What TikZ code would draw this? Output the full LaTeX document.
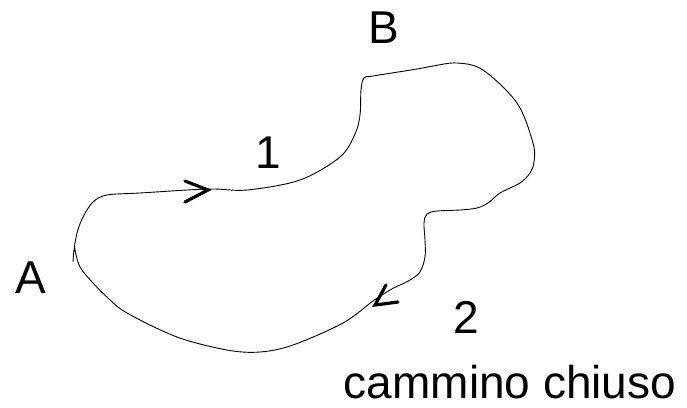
\documentclass[tikz,border=0pt]{standalone}
\usepackage{fontspec}
\setmainfont{Liberation Sans}
\begin{document}
\begin{tikzpicture}[x=1pt,y=-1pt,
  lbl/.style={anchor=base,inner sep=0pt,text depth=0pt,font=\fontsize{46}{50}\selectfont},
  loopline/.style={line width=0.9pt,black},
  chevron/.style={line width=3.2pt,line cap=round,line join=miter,black}]
\useasboundingbox (0,0) rectangle (687,407);

% closed path through A and B
\draw[loopline] plot[smooth,tension=0.55] coordinates {
  (73,262) (74,250) (77,233) (83,217) (93,202) (107,195) (140,193)
  (208,189) (247,190) (300,180) (340,157) (355,134) (360,115) (361,90)
  (364,78) (373,76) (417,69) (433,66) (457,63) (483,70) (517,103)
  (533,143) (534,162) (530,173) (520,183) (500,193) (488,203) (477,208)
  (460,210) (437,211) (427,214) (424,223) (425,240) (425,257) (420,272)
  (410,280) (400,285) (390,290) (373,301) (343,323) (293,345) (260,352)
  (227,350) (177,337) (127,313) (108,298) (93,283) (80,267) (75,250) (75,243)};

% direction marks
\coordinate (t1) at (208,190);
\coordinate (t2) at (375,305);
\draw[chevron] (185,181) -- (t1) -- (185,202);
\draw[chevron] (386,285) -- (t2) -- (398,302);

% labels
\node[lbl] (lA) at (31,293) {A};
\node[lbl] (lB) at (384,43) {B};
\node[lbl] (l1) at (268,168) {1};
\node[lbl] (l2) at (466,333) {2};
\node[lbl] (cap) at (510,398) {cammino chiuso};
\end{tikzpicture}
\end{document}
